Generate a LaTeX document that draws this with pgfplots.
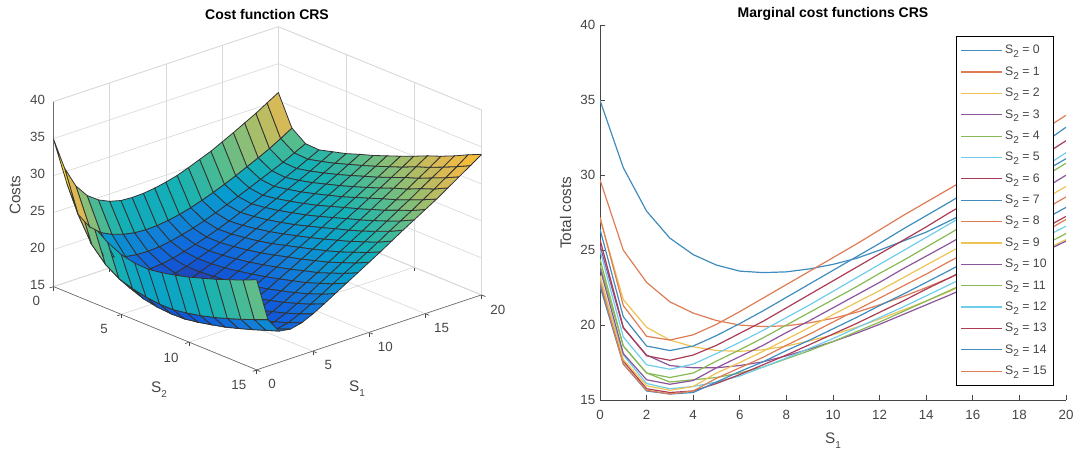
\documentclass[border=0pt]{standalone}
\usepackage{fontspec}
\setmainfont{Liberation Sans}
\usepackage{pgfplots}
\usepackage{pgfplotstable}
\pgfplotsset{compat=1.18}
\definecolor{tickgray}{RGB}{70,70,70}
\definecolor{c0}{RGB}{64,140,190}
\definecolor{c1}{RGB}{222,125,85}
\definecolor{c2}{RGB}{238,195,85}
\definecolor{c3}{RGB}{140,85,155}
\definecolor{c4}{RGB}{135,185,85}
\definecolor{c5}{RGB}{110,205,235}
\definecolor{c6}{RGB}{170,60,85}
\pgfplotstableread{
S1 s0 s1 s2 s3 s4 s5 s6 s7 s8 s9 s10 s11 s12 s13 s14 s15
0 35.0 29.7 27.1 25.3 24.0 23.1 22.7 22.6 22.9 23.3 23.8 24.4 25.0 25.7 26.4 27.2
1 30.5 25.0 21.7 19.8 18.6 18.0 17.6 17.4 17.4 17.7 18.1 18.6 19.2 19.85 20.55 21.3
2 27.6 22.85 19.85 18.0 16.8 16.1 15.75 15.6 15.65 15.95 16.35 16.8 17.35 17.95 18.6 19.25
3 25.8 21.55 19.0 17.3 16.2 15.75 15.5 15.4 15.4 15.65 16.05 16.5 17.05 17.65 18.3 19.0
4 24.7 20.8 18.55 17.15 16.35 15.9 15.6 15.5 15.6 15.9 16.3 16.8 17.4 18.0 18.6 19.35
5 24.0 20.3 18.3 17.15 16.5 16.2 16.1 16.2 16.45 16.8 17.15 17.6 18.1 18.65 19.3 20.05
6 23.6 20.0 18.25 17.3 16.8 16.6 16.7 16.9 17.15 17.5 17.9 18.35 18.85 19.45 20.1 20.9
7 23.5 19.9 18.35 17.55 17.2 17.2 17.35 17.55 17.85 18.25 18.65 19.15 19.65 20.25 20.95 21.8
8 23.55 19.95 18.6 17.95 17.75 17.8 18.0 18.3 18.65 19.05 19.5 20.0 20.5 21.15 21.85 22.7
9 23.75 20.15 18.95 18.4 18.3 18.45 18.7 19.0 19.4 19.85 20.3 20.85 21.35 22.05 22.75 23.6
10 24.05 20.45 19.35 18.9 18.9 19.1 19.4 19.75 20.2 20.7 21.15 21.7 22.25 22.95 23.65 24.5
11 24.45 20.85 19.85 19.45 19.55 19.8 20.1 20.5 21.0 21.5 22.0 22.55 23.15 23.85 24.55 25.4
12 25.0 21.35 20.4 20.05 20.2 20.5 20.85 21.3 21.8 22.3 22.85 23.45 24.05 24.75 25.45 26.35
13 25.6 21.9 21.0 20.7 20.9 21.2 21.6 22.05 22.6 23.15 23.75 24.3 24.95 25.65 26.4 27.3
14 26.2 22.5 21.6 21.35 21.6 21.95 22.4 22.85 23.4 24.0 24.6 25.2 25.85 26.55 27.3 28.2
15 26.95 23.15 22.25 22.0 22.3 22.7 23.15 23.65 24.25 24.85 25.45 26.1 26.75 27.5 28.2 29.1
16 27.7 23.85 22.9 22.7 23.05 23.45 23.95 24.5 25.05 25.7 26.35 27.05 27.65 28.4 29.15 30.0
17 28.5 24.55 23.55 23.4 23.75 24.2 24.75 25.3 25.9 26.55 27.25 27.95 28.6 29.4 30.1 31.0
18 29.3 25.3 24.2 24.1 24.5 25.0 25.55 26.15 26.8 27.45 28.15 28.9 29.55 30.35 31.1 32.0
19 30.2 26.15 24.95 24.85 25.3 25.8 26.4 27.0 27.65 28.35 29.05 29.85 30.5 31.3 32.1 33.0
20 31.1 27.05 25.7 25.6 26.1 26.6 27.25 27.85 28.55 29.25 30.0 30.8 31.5 32.3 33.2 34.0
}\wide
\newcommand{\Stwo}{S\raisebox{-0.6ex}{\fontsize{7.5}{8}\selectfont 2}}
\newcommand{\Sone}{S\raisebox{-0.6ex}{\fontsize{7.5}{8}\selectfont 1}}
\def\coords{}
\begin{document}
\begin{tikzpicture}[x=1pt,y=1pt]
\path[use as bounding box] (0,0) rectangle (806.25,337.5);
\foreach \s in {0,...,15}{\foreach \x in {0,...,20}{%
  \pgfplotstablegetelem{\x}{s\s}\of\wide
  \xdef\coords{\coords (\x,\s,\pgfplotsretval)}}}
\begin{axis}[
  at={(40pt,122.5pt)},anchor=origin,
  x={(8.4375pt,2.8125pt)},y={(-10.167pt,4.167pt)},z={(0pt,5.55pt)},
  y dir=reverse,
  xmin=0,xmax=20,ymin=0,ymax=15,zmin=15,zmax=40,
  xtick={0,5,10,15,20},ytick={0,5,10,15},ztick={15,20,...,40},
  xtick pos=left,ytick pos=left,zticklabel pos=left,
  ztick style={draw=none},
  tick align=outside,major tick length=3pt,
  grid=major,major grid style={gray!30,line width=.5pt},
  axis line style={gray!30,line width=.5pt},
  tick style={tickgray,line width=.5pt},
  ticklabel style={font=\fontsize{10}{12}\selectfont,text=tickgray},
  xticklabel style={xshift=3.8pt,yshift=-1.5pt},
  yticklabel style={xshift=-4.5pt,yshift=-2.2pt},
  /pgf/number format/assume math mode=true,
  title={\textbf{Cost function CRS}},
  title style={font=\fontsize{10.5}{12}\selectfont,at={(axis cs:20,0,40)},anchor=center,xshift=-8.5pt,yshift=2.8pt},
  xlabel={\Sone},ylabel={\Stwo},zlabel={Costs},
  label style={font=\fontsize{11.5}{13}\selectfont,text=tickgray},
  xlabel style={at={(axis cs:2.9,20,15)},anchor=center,yshift=-1.5pt},
  ylabel style={at={(axis cs:-6.93,13.55,15)},anchor=center,rotate=0,yshift=-1.5pt},
  zlabel style={at={(axis cs:-3.4,0,29.1)},anchor=center,rotate=0},
  colormap={parula}{rgb255(0)=(53,42,135) rgb255(1)=(15,92,221) rgb255(2)=(18,125,216) rgb255(3)=(7,156,207) rgb255(4)=(21,177,180) rgb255(5)=(89,189,140) rgb255(6)=(165,190,106) rgb255(7)=(225,185,82) rgb255(8)=(252,190,50) rgb255(9)=(252,215,40)},
  point meta min=15.35,point meta max=35,
]
\edef\temp{\noexpand\addplot3[surf,shader=flat corner,draw=black!80,line width=.6pt,z buffer=sort,mesh/rows=16,mesh/cols=21] coordinates {\coords};}
\temp
\draw[tickgray,line width=.6pt] (axis cs:0,0,15) -- (axis cs:0,15,15) -- (axis cs:20,15,15);
\draw[black!80,line width=.6pt] (axis cs:0,0,15) -- (axis cs:0,0,40);
\foreach \zt in {15,20,...,40}{\edef\tmp{\noexpand\draw[tickgray,line width=.5pt] (axis cs:0,0,\zt) -- ++(-4pt,1pt);}\tmp}
\end{axis}
\begin{axis}[
  at={(450pt,37.5pt)},anchor=south west,scale only axis,
  width=349.5pt,height=281pt,
  axis x line=bottom,axis y line=left,
  axis line style={-,tickgray,line width=.6pt},
  xmin=0,xmax=20,ymin=15,ymax=40,
  xtick={0,2,...,20},ytick={15,20,...,40},
  tick align=inside,tick style={tickgray,line width=.5pt},
  major tick length=3.5pt,
  ticklabel style={font=\fontsize{10}{12}\selectfont,text=tickgray},
  xticklabel style={yshift=-4pt},
  /pgf/number format/assume math mode=true,
  title={\textbf{Marginal cost functions CRS}},
  title style={font=\fontsize{10.5}{12}\selectfont,at={(0.5,1)},anchor=south,yshift=-6pt},
  xlabel={\Sone},ylabel={Total costs},
  label style={font=\fontsize{11.5}{13}\selectfont,text=tickgray},
  xlabel style={yshift=-3pt},
  cycle list={{c0},{c1},{c2},{c3},{c4},{c5},{c6},{c0},{c1},{c2},{c3},{c4},{c5},{c6},{c0},{c1}},
  every axis plot/.append style={line width=.9pt,no markers},
  legend image code/.code={\draw[#1] (0pt,0pt) -- (30.5pt,0pt);},
  legend cell align=left,
  legend style={at={(rel axis cs:0.9735,0.9706)},anchor=north east,draw=black,line width=.6pt,fill=white,
    font=\fontsize{9.2}{11}\selectfont,text=tickgray,row sep=4.1pt,inner xsep=3pt,inner ysep=4.5pt},
]
\pgfplotsinvokeforeach{0,...,15}{
  \addplot table[x=S1,y=s#1] {\wide};
  \addlegendentry{\Stwo{} = #1}
}
\end{axis}
\end{tikzpicture}
\end{document}
